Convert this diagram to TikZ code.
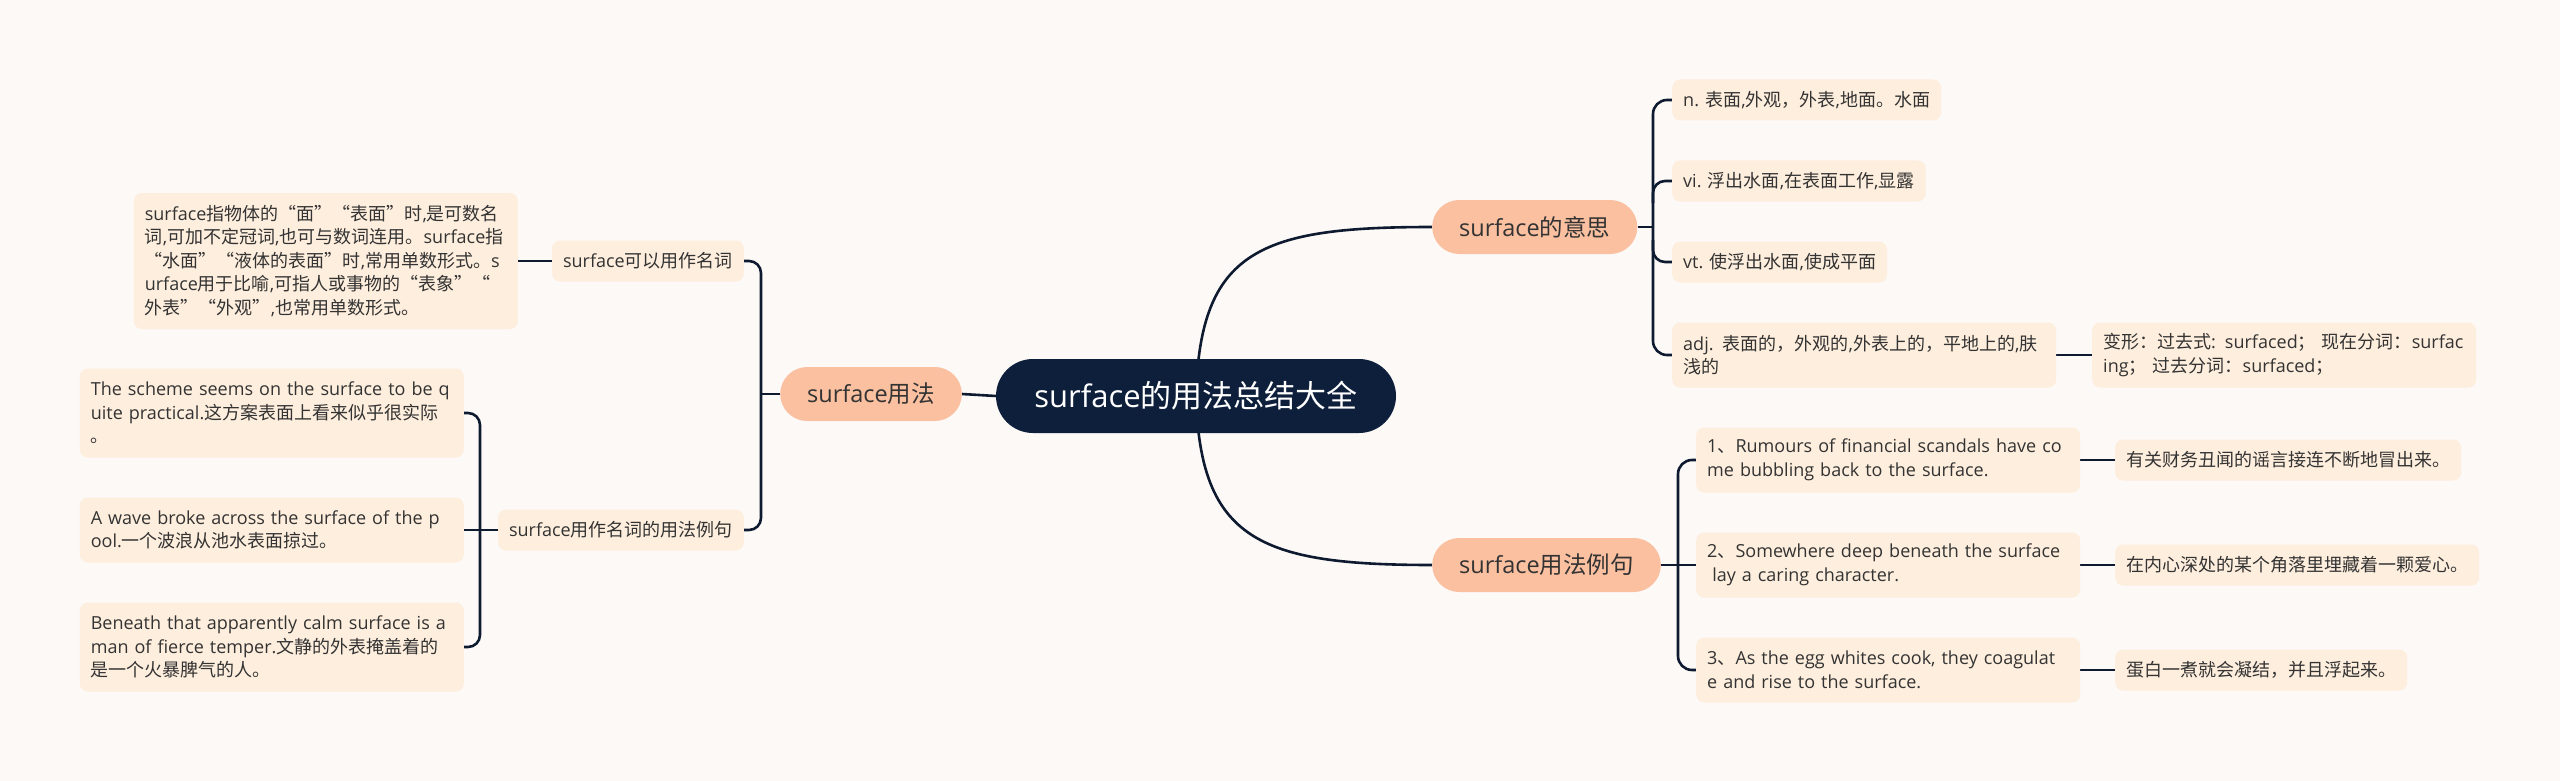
\documentclass[tikz,border=0pt]{standalone}
\usepackage{fontspec}
\setmainfont{Open Sans}
\newfontfamily\latf{Open Sans}
\newfontfamily\cjkf{Noto Sans CJK SC}
\XeTeXinterchartokenstate=1
\newXeTeXintercharclass\cjkcls
\newcount\cjkcnt
\def\setcjkrange#1#2{\cjkcnt=#1\relax\loop\XeTeXcharclass\cjkcnt=\cjkcls\advance\cjkcnt by 1\relax\ifnum\cjkcnt<#2\relax\repeat}
\setcjkrange{"3000}{"3040}
\setcjkrange{"4E00}{"A000}
\setcjkrange{"FF00}{"FFF0}
\XeTeXcharclass"201C=\cjkcls
\XeTeXcharclass"201D=\cjkcls
\XeTeXinterchartoks 0 \cjkcls = {\cjkf}
\XeTeXinterchartoks 4095 \cjkcls = {\cjkf}
\XeTeXinterchartoks \cjkcls 0 = {\latf}
\XeTeXinterchartoks \cjkcls 4095 = {\latf}
\usetikzlibrary{calc}
\definecolor{bgc}{HTML}{FDF9F7}
\definecolor{leafc}{HTML}{FEEEDD}
\definecolor{brc}{HTML}{FAC0A0}
\definecolor{rootc}{HTML}{0E1F3B}
\definecolor{linec}{HTML}{0E1A30}
\definecolor{txtc}{HTML}{333333}
\pgfdeclarelayer{bgfill}
\pgfdeclarelayer{bg}
\pgfsetlayers{bgfill,bg,main}
\newcommand{\lineb}[1]{\mbox{#1}}
\tikzset{
  leaf/.style={fill=leafc, rounded corners=8pt, inner xsep=11pt, inner ysep=0pt, align=left,
    font=\fontsize{18}{23.5}\selectfont, text=txtc},
  wide/.style={text width=362pt},
  lone/.style={leaf, minimum height=41pt},
  ltwo/.style={leaf, wide, minimum height=65pt},
  lthree/.style={leaf, wide, minimum height=89pt},
  lfive/.style={leaf, wide, minimum height=136pt},
  branch/.style={fill=brc, rounded corners=27pt, minimum height=54pt, inner xsep=27pt, inner ysep=0pt,
    font=\fontsize{23.5}{28}\selectfont, text=txtc},
  rootbox/.style={fill=rootc, rounded corners=37pt, minimum height=74pt, minimum width=400pt,
    font=\fontsize{31}{36}\selectfont, text=white},
  conn/.style={draw=linec, line width=2.6pt},
}
\begin{document}
\begin{tikzpicture}[x=1pt,y=-1pt]
\begin{pgfonlayer}{bgfill}
\fill[bgc] (0,0) rectangle (2560,781);
\end{pgfonlayer}
\path[use as bounding box] (0,0) rectangle (2560,781);

% root and branches
\node[rootbox] (root) at (1196,396) {surface的用法总结大全};
\node[branch, anchor=west] (mean) at (1432,227) {surface的意思};
\node[branch, anchor=west] (exam) at (1432,565) {surface用法例句};
\node[branch, anchor=west] (use) at (780,394) {surface用法};

% right top leaves
\node[lone, anchor=west] (n) at (1672,100) {n. 表面,外观，外表,地面。水面};
\node[lone, anchor=west] (vi) at (1672,181) {vi. 浮出水面,在表面工作,显露};
\node[lone, anchor=west] (vt) at (1672,262) {vt. 使浮出水面,使成平面};
\node[ltwo, anchor=west] (adj) at (1672,355) {\lineb{adj. 表面的，外观的,外表上的，平地上的,肤}\\\lineb{浅的}};
\node[ltwo, anchor=west] (form) at (2092,355) {\lineb{变形：过去式: surfaced；  现在分词：surfac}\\\lineb{ing；  过去分词：surfaced；}};

% right bottom leaves
\node[ltwo, anchor=west] (e1) at (1696,460) {\lineb{1、Rumours of financial scandals have co}\\\lineb{me bubbling back to the surface.}};
\node[ltwo, anchor=west] (e2) at (1696,565) {\lineb{2、Somewhere deep beneath the surface}\\\lineb{\hspace*{0.28em}lay a caring character.}};
\node[ltwo, anchor=west] (e3) at (1696,670) {\lineb{3、As the egg whites cook, they coagulat}\\\lineb{e and rise to the surface.}};
\node[lone, anchor=west] (t1) at (2115,460) {有关财务丑闻的谣言接连不断地冒出来。};
\node[lone, anchor=west] (t2) at (2115,565) {在内心深处的某个角落里埋藏着一颗爱心。};
\node[lone, anchor=west] (t3) at (2115,670) {蛋白一煮就会凝结，并且浮起来。};

% left leaves
\node[lone, anchor=east] (noun) at (744,261) {surface可以用作名词};
\node[lone, anchor=east] (nex) at (744,530) {surface用作名词的用法例句};
\node[lfive, anchor=east] (big) at (518,261) {\lineb{surface指物体的“面”“表面”时,是可数名}\\\lineb{词,可加不定冠词,也可与数词连用。surface指}\\\lineb{“水面”“液体的表面”时,常用单数形式。s}\\\lineb{urface用于比喻,可指人或事物的“表象”“}\\\lineb{外表”“外观”,也常用单数形式。}};
\node[lthree, anchor=east] (s1) at (464,413) {\lineb{The scheme seems on the surface to be q}\\\lineb{uite practical.这方案表面上看来似乎很实际}\\\lineb{。}};
\node[ltwo, anchor=east] (s2) at (464,530) {\lineb{A wave broke across the surface of the p}\\\lineb{ool.一个波浪从池水表面掠过。}};
\node[lthree, anchor=east] (s3) at (464,647) {\lineb{Beneath that apparently calm surface is a}\\\lineb{man of fierce temper.文静的外表掩盖着的}\\\lineb{是一个火暴脾气的人。}};

\coordinate (bm) at (1653,227);
\coordinate (be) at (1678,565);
\coordinate (bu) at (761,394);
\coordinate (bn) at (480,530);

\begin{pgfonlayer}{bg}
% root connectors
\draw[conn] (root.center) .. controls (1200,250) and (1260,227) .. (mean.west);
\draw[conn] (root.center) .. controls (1200,540) and (1260,565) .. (exam.west);
\draw[conn] (root.west) -- (use.east);
% meaning bracket
\draw[conn] (mean.east) -- (bm);
\draw[conn, rounded corners=14pt] (n.west) -| (bm) |- (adj.west);
\draw[conn, rounded corners=12pt] (vi.west) -- (vi.west -| bm) -- ++(0,22);
\draw[conn, rounded corners=12pt] (vt.west) -- (vt.west -| bm) -- ++(0,-22);
\draw[conn] (adj.east) -- (form.west);
% examples bracket
\draw[conn] (exam.east) -- (be);
\draw[conn, rounded corners=14pt] (e1.west) -| (be) |- (e3.west);
\draw[conn] (e2.west) -- (be);
\draw[conn] (e1.east) -- (t1.west);
\draw[conn] (e2.east) -- (t2.west);
\draw[conn] (e3.east) -- (t3.west);
% left
\draw[conn] (use.west) -- (bu);
\draw[conn, rounded corners=12pt] (noun.east) -| (bu) |- (nex.east);
\draw[conn] (big.east) -- (noun.west);
\draw[conn] (nex.west) -- (bn);
\draw[conn, rounded corners=12pt] (s1.east) -| (bn) |- (s3.east);
\draw[conn] (s2.east) -- (bn);
\end{pgfonlayer}
\end{tikzpicture}
\end{document}
